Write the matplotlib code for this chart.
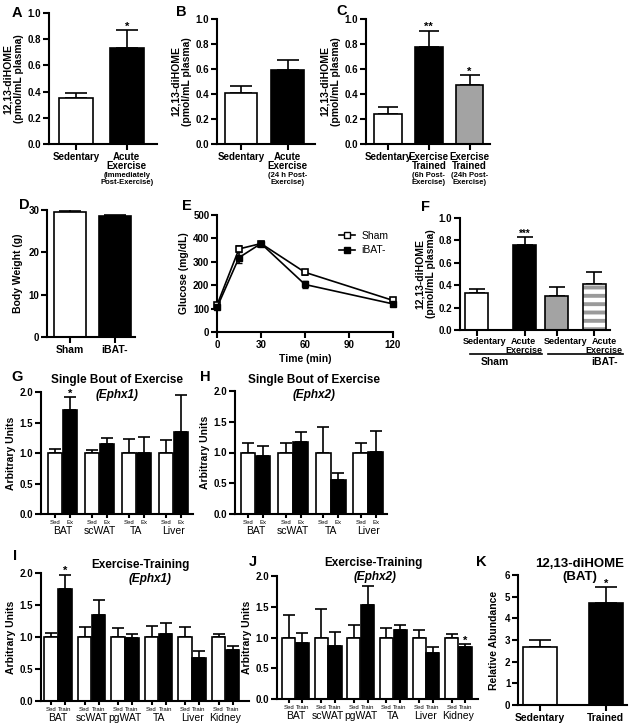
import matplotlib
matplotlib.use('Agg')
import matplotlib.pyplot as plt
import matplotlib.transforms as mtransforms
from matplotlib.lines import Line2D
import numpy as np

plt.rcParams['font.family'] = ['Liberation Sans', 'DejaVu Sans']
plt.rcParams['font.weight'] = 'bold'
plt.rcParams['axes.labelweight'] = 'bold'
plt.rcParams['hatch.linewidth'] = 2.8

# ---------------- data ----------------
a_labels = ['Sedentary', 'Acute\nExercise']
a_notes = ['', '(Immediately\nPost-Exercise)']
a_vals = [0.35, 0.73]
a_errs = [0.04, 0.14]
a_stars = ['', '*']

b_labels = ['Sedentary', 'Acute\nExercise']
b_notes = ['', '(24 h Post-\nExercise)']
b_vals = [0.41, 0.59]
b_errs = [0.055, 0.08]

c_labels = ['Sedentary', 'Exercise\nTrained', 'Exercise\nTrained']
c_notes = ['', '(6h Post-\nExercise)', '(24h Post-\nExercise)']
c_vals = [0.24, 0.775, 0.47]
c_errs = [0.055, 0.13, 0.08]
c_stars = ['', '**', '*']

d_labels = ['Sham', 'iBAT-']
d_vals = [29.6, 28.6]
d_errs = [0.3, 0.3]

e_time = [0, 15, 30, 60, 120]
e_sham = [115, 355, 378, 255, 135]
e_sham_err = [10, 12, 8, 10, 8]
e_ibat = [105, 318, 378, 203, 120]
e_ibat_err = [8, 22, 10, 15, 8]

f_labels = ['Sedentary', 'Acute\nExercise', 'Sedentary', 'Acute\nExercise']
f_groups = ['Sham', 'iBAT-']
f_vals = [0.33, 0.755, 0.30, 0.41]
f_errs = [0.04, 0.075, 0.085, 0.105]
f_stars = ['', '***', '', '']

tissues4 = ['BAT', 'scWAT', 'TA', 'Liver']
tissues6 = ['BAT', 'scWAT', 'pgWAT', 'TA', 'Liver', 'Kidney']

g_sed = [1.0, 1.0, 1.0, 1.0]
g_sed_err = [0.07, 0.05, 0.23, 0.21]
g_ex = [1.71, 1.15, 1.0, 1.35]
g_ex_err = [0.2, 0.1, 0.26, 0.6]
g_stars = ['*', '', '', '']

h_sed = [1.0, 1.0, 1.0, 1.0]
h_sed_err = [0.15, 0.15, 0.41, 0.16]
h_ex = [0.94, 1.17, 0.56, 1.01]
h_ex_err = [0.17, 0.16, 0.1, 0.34]
h_stars = ['', '', '', '']

i_sed = [1.0, 1.0, 1.0, 1.0, 1.0, 1.0]
i_sed_err = [0.07, 0.15, 0.14, 0.17, 0.16, 0.05]
i_train = [1.75, 1.34, 0.98, 1.05, 0.67, 0.79]
i_train_err = [0.22, 0.24, 0.06, 0.17, 0.11, 0.07]
i_stars = ['*', '', '', '', '', '']

j_sed = [1.0, 1.0, 1.0, 1.0, 1.0, 1.0]
j_sed_err = [0.37, 0.47, 0.21, 0.15, 0.12, 0.05]
j_train = [0.91, 0.86, 1.53, 1.13, 0.74, 0.84]
j_train_err = [0.17, 0.23, 0.31, 0.08, 0.11, 0.05]
j_stars = ['', '', '', '', '', '*']

k_labels = ['Sedentary', 'Trained']
k_vals = [2.7, 4.72]
k_errs = [0.32, 0.72]
k_stars = ['', '*']

# ---------------- layout helpers ----------------
W, H = 635, 728
fig = plt.figure(figsize=(W / 100, H / 100), dpi=100)
GRAY = '#a3a3a3'
STRIPE = '#9a9a9a'


def make_ax(l, r, t, b):
    ax = fig.add_axes([l / W, 1 - b / H, (r - l) / W, (b - t) / H])
    for s in ('top', 'right'):
        ax.spines[s].set_visible(False)
    for s in ('left', 'bottom'):
        ax.spines[s].set_linewidth(1.5)
    ax.tick_params(direction='out', length=4, width=1.5, labelsize=7, pad=1.5)
    return ax


def bars(ax, x, vals, errs, colors, width, capsize, lw=1.2, stars=None, starsize=8):
    ax.bar(x, vals, width, color=colors, edgecolor='black', linewidth=lw, zorder=2)
    ax.errorbar(x, vals, yerr=[np.zeros(len(vals)), errs], fmt='none', ecolor='black',
                elinewidth=lw, capsize=capsize, capthick=lw, zorder=1)
    if stars:
        for xi, v, e, s in zip(x, vals, errs, stars):
            if s:
                ax.annotate(s, xy=(xi, v + e), xytext=(0, -1), textcoords='offset points',
                            ha='center', va='bottom', fontsize=starsize)


def notes(ax, x, texts, off):
    for xi, t in zip(x, texts):
        if t:
            ax.annotate(t, xy=(xi, 0), xycoords=('data', 'axes fraction'), xytext=(0, -off),
                        textcoords='offset points', ha='center', va='top', fontsize=5.5,
                        linespacing=1.0)


def letter(x, y, s):
    fig.text(x / W, 1 - y / H, s, fontsize=10.5, fontweight='bold', ha='left', va='top')


def ytick_fmt(ax, ticks, fmt):
    ax.set_yticks(ticks)
    ax.set_yticklabels([fmt.format(t) for t in ticks])


diHOME = '12,13-diHOME\n(pmol/mL plasma)'
yt1 = [0.0, 0.2, 0.4, 0.6, 0.8, 1.0]
yt2 = [0.0, 0.5, 1.0, 1.5, 2.0]

# ---------------- A ----------------
ax = make_ax(49, 157, 13, 144)
xa = np.arange(len(a_vals))
bars(ax, xa, a_vals, a_errs, ['white', 'black'], 0.68, 8, stars=a_stars)
ax.set_xlim(-0.54, 1.6); ax.set_ylim(0, 1.0)
ytick_fmt(ax, yt1, '{:.1f}')
ax.set_xticks(xa); ax.set_xticklabels(a_labels, fontsize=7, linespacing=0.95)
notes(ax, xa, a_notes, 20.5)
ax.set_ylabel(diHOME, fontsize=7.5, labelpad=3, linespacing=1.1)

# ---------------- B ----------------
ax = make_ax(217, 315, 19, 144)
xb = np.arange(len(b_vals))
bars(ax, xb, b_vals, b_errs, ['white', 'black'], 0.7, 8)
ax.set_xlim(-0.52, 1.59); ax.set_ylim(0, 1.0)
ytick_fmt(ax, yt1, '{:.1f}')
ax.set_xticks(xb); ax.set_xticklabels(b_labels, fontsize=7, linespacing=0.95)
notes(ax, xb, b_notes, 20.5)
ax.set_ylabel(diHOME, fontsize=7.5, labelpad=3, linespacing=1.1)

# ---------------- C ----------------
ax = make_ax(366, 490, 19, 144)
xc = np.arange(len(c_vals))
bars(ax, xc, c_vals, c_errs, ['white', 'black', GRAY], 0.68, 7, stars=c_stars)
ax.set_xlim(-0.54, 2.5); ax.set_ylim(0, 1.0)
ytick_fmt(ax, yt1, '{:.1f}')
ax.set_xticks(xc); ax.set_xticklabels(c_labels, fontsize=7, linespacing=0.95)
notes(ax, xc, c_notes, 20.5)
ax.set_ylabel(diHOME, fontsize=7.5, labelpad=3, linespacing=1.1)

# ---------------- D ----------------
ax = make_ax(47, 135, 210, 337)
xd = np.arange(len(d_vals))
bars(ax, xd, d_vals, d_errs, ['white', 'black'], 0.72, 8)
ax.set_xlim(-0.52, 1.46); ax.set_ylim(0, 30)
ytick_fmt(ax, [0, 10, 20, 30], '{:d}')
ax.set_xticks(xd); ax.set_xticklabels(d_labels, fontsize=7.5)
ax.set_ylabel('Body Weight (g)', fontsize=7.5, labelpad=4)

# ---------------- E ----------------
ax = make_ax(217, 393, 215, 332)
ax.errorbar(e_time, e_sham, yerr=e_sham_err, color='black', lw=1.2, marker='s', ms=5,
            mfc='white', mec='black', mew=1.2, capsize=2.5, clip_on=False, zorder=3)
ax.errorbar(e_time, e_ibat, yerr=e_ibat_err, color='black', lw=1.2, marker='s', ms=5,
            mfc='black', mec='black', capsize=2.5, clip_on=False, zorder=3)
ax.set_xlim(0, 120); ax.set_ylim(0, 500)
ax.set_xticks([0, 30, 60, 90, 120]); ax.set_yticks([0, 100, 200, 300, 400, 500])
ax.set_xlabel('Time (min)', fontsize=7.5, labelpad=3)
ax.set_ylabel('Glucose (mg/dL)', fontsize=7.5, labelpad=3)
handles = [Line2D([], [], color='black', lw=1.2, marker='s', ms=5, mfc='white', mec='black'),
           Line2D([], [], color='black', lw=1.2, marker='s', ms=5, mfc='black', mec='black')]
ax.legend(handles, ['Sham', 'iBAT-'], loc='upper left', bbox_to_anchor=(0.665, 0.91),
          frameon=False, handlelength=1.5, labelspacing=0.45, borderpad=0, handletextpad=0.6,
          prop={'weight': 'normal', 'size': 7.5})

# ---------------- F ----------------
ax = make_ax(460, 610, 218, 330)
f_pos = np.array([0.0, 1.22, 2.04, 3.0])
f_label_shift = [8, -1, 9, 10]
f_fill = ['white', 'black', GRAY, 'white']
f_hatch = ['', '', '', '--']
for xi, v, c, h in zip(f_pos, f_vals, f_fill, f_hatch):
    ax.bar(xi, v, 0.59, color=c, edgecolor=STRIPE if h else c, linewidth=0, hatch=h, zorder=2)
ax.bar(f_pos, f_vals, 0.59, color='none', edgecolor='black', linewidth=1.2, zorder=2.5)
ax.errorbar(f_pos, f_vals, yerr=[np.zeros(4), f_errs], fmt='none', ecolor='black',
            elinewidth=1.2, capsize=6, capthick=1.2, zorder=1)
for xi, v, e, s in zip(f_pos, f_vals, f_errs, f_stars):
    if s:
        ax.annotate(s, xy=(xi, v + e), xytext=(0, -1), textcoords='offset points',
                    ha='center', va='bottom', fontsize=7)
ax.set_xlim(-0.43, 3.4); ax.set_ylim(0, 1.0)
ytick_fmt(ax, yt1, '{:.1f}')
ax.set_xticks(f_pos); ax.set_xticklabels(f_labels, fontsize=6.5, linespacing=0.95)
ax.tick_params(axis='x', pad=1)
for lab, sh in zip(ax.get_xticklabels(), f_label_shift):
    lab.set_transform(lab.get_transform() + mtransforms.ScaledTranslation(sh / 100, 0, fig.dpi_scale_trans))
ax.set_ylabel(diHOME, fontsize=7.5, labelpad=2, linespacing=1.1)
trans = mtransforms.blended_transform_factory(ax.transData, ax.transAxes)
for (x0, x1, xt), g in zip([(-0.18, 1.66, 0.45), (1.81, 3.72, 3.27)], f_groups):
    ax.plot([x0, x1], [-0.215, -0.215], color='black', lw=1.2, transform=trans, clip_on=False)
    ax.text(xt, -0.24, g, transform=trans, ha='center', va='top', fontsize=7.5)

# ---------------- G/H/I/J helper ----------------
def expr_panel(ax, tissues, sed, sed_err, trt, trt_err, stars, sublabels, off, width, grp_off):
    n = len(tissues)
    gx = np.arange(n)
    xs = gx - off
    xt = gx + off
    bars(ax, xs, sed, sed_err, 'white', width, 4.5)
    bars(ax, xt, trt, trt_err, 'black', width, 4.5, stars=stars, starsize=8)
    ticks = np.ravel(np.column_stack([xs, xt]))
    ax.set_xticks(ticks)
    ax.set_xticklabels(sublabels * n, fontsize=4.3, fontweight='normal')
    ax.tick_params(axis='x', length=3, pad=1)
    for g, t in zip(gx, tissues):
        ax.annotate(t, xy=(g, 0), xycoords=('data', 'axes fraction'), xytext=(0, -grp_off),
                    textcoords='offset points', ha='center', va='top', fontsize=7.5,
                    fontweight='normal')
    ax.set_ylim(0, 2.0)
    ytick_fmt(ax, yt2, '{:.1f}')
    ax.set_ylabel('Arbitrary Units', fontsize=7.5, labelpad=3)


ax = make_ax(41, 193, 392, 514)
expr_panel(ax, tissues4, g_sed, g_sed_err, g_ex, g_ex_err, g_stars, ['Sed', 'Ex'], 0.2, 0.39, 9)
ax.set_xlim(-0.58, 3.53)

ax = make_ax(235, 387, 391, 514)
expr_panel(ax, tissues4, h_sed, h_sed_err, h_ex, h_ex_err, h_stars, ['Sed', 'Ex'], 0.2, 0.39, 9)
ax.set_xlim(-0.55, 3.5)

ax = make_ax(41, 249, 573, 701)
expr_panel(ax, tissues6, i_sed, i_sed_err, i_train, i_train_err, i_stars, ['Sed', 'Train'], 0.21, 0.4, 8.5)
ax.set_xlim(-0.51, 5.7)

ax = make_ax(277, 478, 576, 699)
expr_panel(ax, tissues6, j_sed, j_sed_err, j_train, j_train_err, j_stars, ['Sed', 'Train'], 0.21, 0.4, 8.5)
ax.set_xlim(-0.57, 5.6)

# ---------------- K ----------------
ax = make_ax(518, 627, 575, 705)
xk = np.arange(len(k_vals))
bars(ax, xk, k_vals, k_errs, ['white', 'black'], 0.52, 8, stars=k_stars)
ax.set_xlim(-0.33, 1.32); ax.set_ylim(0, 6)
ytick_fmt(ax, [0, 1, 2, 3, 4, 5, 6], '{:d}')
ax.set_xticks(xk); ax.set_xticklabels(k_labels, fontsize=7.5)
ax.set_ylabel('Relative Abundance', fontsize=7.5, labelpad=4)

# ---------------- titles ----------------
def ftxt(x, y, s, **kw):
    fig.text(x / W, 1 - y / H, s, ha='center', va='center', **kw)

ftxt(117, 380, 'Single Bout of Exercise', fontsize=8.5)
ftxt(117, 395, '(Ephx1)', fontsize=8.5, style='italic')
ftxt(314, 380, 'Single Bout of Exercise', fontsize=8.5)
ftxt(314, 395, '(Ephx2)', fontsize=8.5, style='italic')
ftxt(140, 565, 'Exercise-Training', fontsize=8.5)
ftxt(150, 579, '(Ephx1)', fontsize=8.5, style='italic')
ftxt(373, 563, 'Exercise-Training', fontsize=8.5)
ftxt(375, 577, '(Ephx2)', fontsize=8.5, style='italic')
ftxt(580, 564, '12,13-diHOME', fontsize=9.5)
ftxt(580, 577, '(BAT)', fontsize=9.5)

# ---------------- panel letters ----------------
letter(12, 6, 'A')
letter(176, 5, 'B')
letter(336, 4, 'C')
letter(19, 198, 'D')
letter(182, 199, 'E')
letter(421, 200, 'F')
letter(11, 370, 'G')
letter(200, 370, 'H')
letter(13, 549, 'I')
letter(249, 555, 'J')
letter(476, 555, 'K')

fig.savefig('out.png', dpi=100)
